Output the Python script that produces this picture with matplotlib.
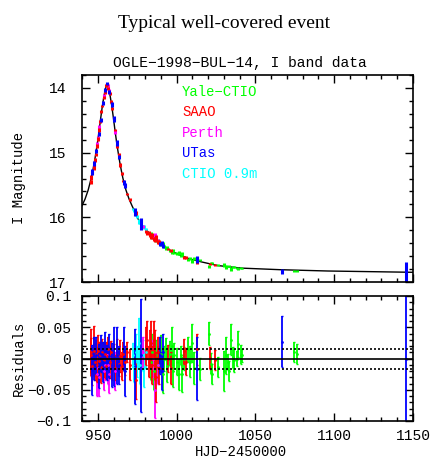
import matplotlib
matplotlib.use("Agg")
import matplotlib.pyplot as plt
from matplotlib.ticker import MultipleLocator, FuncFormatter

# ---------------- data ----------------
# model light curve (HJD-2450000, I mag)
model_t = [940, 941.9, 943.9, 945.9, 946.9, 947.9, 948.9, 949.9, 950.9, 951.9,
           952.9, 953.9, 954.9, 955.4, 955.9, 956.4, 956.9, 957.9, 958.9, 959.9,
           960.9, 961.9, 962.9, 963.9, 964.9, 965.9, 966.9, 967.9, 969.9, 971.9,
           975.9, 977.9, 980.9, 982.9, 985.9, 989.9, 995.9, 1000.9, 1007.9, 1015.9,
           1025.9, 1040.9, 1065.9, 1095.9, 1150]
model_m = [15.82, 15.72, 15.58, 15.39, 15.27, 15.14, 14.99, 14.83, 14.65, 14.46,
           14.28, 14.13, 14.01, 13.96, 13.94, 13.96, 14.01, 14.13, 14.28, 14.46,
           14.65, 14.83, 14.99, 15.14, 15.27, 15.39, 15.49, 15.58, 15.72, 15.83,
           16.04, 16.11, 16.20, 16.25, 16.32, 16.41, 16.51, 16.57, 16.64, 16.69,
           16.745, 16.785, 16.81, 16.83, 16.85]

# Yale-CTIO
yale_t = [983.5, 984.5, 985.5, 986.8, 988.5, 990.0, 991.2, 992.0, 993.0, 994.0,
          996.0, 997.0, 997.5, 998.5, 1000.0, 1001.5, 1003.0, 1003.5, 1005.0, 1007.0,
          1008.5, 1009.5, 1011.0, 1014.9, 1020.4, 1021.9, 1022.7, 1026.5, 1030.3, 1031.4,
          1032.4, 1033.3, 1034.5, 1036.0, 1036.7, 1038.1, 1039.2, 1040.9, 1041.3, 1074.5,
          1076.4]
yale_m = [16.26, 16.30, 16.29, 16.35, 16.37, 16.42, 16.41, 16.45, 16.48, 16.47,
          16.52, 16.54, 16.51, 16.55, 16.56, 16.55, 16.60, 16.57, 16.61, 16.65,
          16.64, 16.68, 16.64, 16.66, 16.76, 16.71, 16.71, 16.74, 16.74, 16.77,
          16.76, 16.75, 16.80, 16.77, 16.77, 16.78, 16.80, 16.79, 16.79, 16.83,
          16.83]
yale_r = [-0.005, 0.010, -0.020, 0.005, -0.010, 0.008, -0.025, 0.000, 0.015, -0.012,
          0.008, 0.020, -0.020, 0.005, -0.005, -0.025, 0.005, -0.025, 0.000, 0.015,
          -0.005, 0.025, -0.015, -0.017, 0.040, -0.008, -0.025, -0.014, -0.020, 0.005,
          -0.006, -0.020, 0.030, 0.002, -0.003, 0.000, 0.023, 0.006, 0.005, 0.010,
          0.008]
yale_e = [0.030, 0.030, 0.030, 0.025, 0.028, 0.030, 0.030, 0.020, 0.018, 0.025,
          0.020, 0.030, 0.025, 0.020, 0.022, 0.025, 0.015, 0.028, 0.018, 0.020,
          0.025, 0.030, 0.025, 0.018, 0.018, 0.017, 0.016, 0.016, 0.032, 0.030,
          0.013, 0.016, 0.025, 0.017, 0.018, 0.012, 0.021, 0.015, 0.010, 0.016,
          0.016]

# SAAO
saao_t = [945.4, 946.0, 946.6, 947.3, 948.0, 948.7, 949.4, 950.2, 950.9, 951.6,
          952.3, 953.0, 953.8, 954.5, 955.3, 956.1, 956.8, 957.6, 958.4, 959.2,
          960.0, 961.0, 962.3, 963.2, 964.3, 965.4, 966.3, 967.2, 968.6, 970.3,
          974.5, 980.8, 981.5, 982.3, 983.0, 983.8, 984.6, 985.4, 986.3, 987.1,
          988.0, 989.0, 994.8, 996.5, 1004.5, 1006.0, 1013.0, 1021.2, 1024.4]
saao_m = [15.45, 15.39, 15.30, 15.23, 15.12, 15.03, 14.90, 14.79, 14.65, 14.52,
          14.37, 14.28, 14.15, 14.07, 13.96, 13.95, 14.01, 14.09, 14.21, 14.32,
          14.48, 14.65, 14.90, 15.03, 15.19, 15.32, 15.44, 15.51, 15.64, 15.73,
          15.94, 16.22, 16.25, 16.23, 16.27, 16.30, 16.28, 16.34, 16.34, 16.32,
          16.38, 16.38, 16.49, 16.51, 16.62, 16.62, 16.69, 16.72, 16.74]
saao_r = [0.005, 0.010, -0.012, 0.012, -0.005, 0.008, -0.010, 0.012, -0.004, 0.006,
          -0.014, 0.010, -0.002, 0.008, -0.012, 0.004, 0.015, -0.006, 0.010, -0.010,
          0.002, -0.015, 0.006, -0.008, 0.004, -0.012, 0.008, -0.006, 0.010, -0.010,
          -0.035, 0.020, 0.030, -0.005, 0.015, 0.025, -0.010, 0.030, 0.005, -0.030,
          0.010, -0.015, 0.000, -0.015, 0.012, -0.005, 0.015, 0.001, -0.003]
saao_e = [0.028, 0.038, 0.030, 0.040, 0.030, 0.022, 0.028, 0.025, 0.030, 0.020,
          0.025, 0.022, 0.028, 0.018, 0.020, 0.022, 0.020, 0.025, 0.018, 0.024,
          0.022, 0.020, 0.026, 0.020, 0.025, 0.022, 0.018, 0.020, 0.016, 0.025,
          0.030, 0.030, 0.030, 0.025, 0.030, 0.035, 0.030, 0.030, 0.040, 0.040,
          0.025, 0.025, 0.022, 0.025, 0.020, 0.022, 0.025, 0.018, 0.016]

# Perth
perth_t = [949.5, 950.2, 951.0, 953.8, 954.5, 955.9, 956.6, 957.4, 961.2, 978.5,
           985.0, 986.5, 988.0]
perth_m = [14.87, 14.77, 14.60, 14.13, 14.05, 13.95, 13.97, 14.05, 14.68, 16.14,
           16.30, 16.28, 16.36]
perth_r = [-0.025, -0.015, -0.030, -0.020, -0.010, 0.005, -0.010, -0.025, -0.020, 0.010,
           0.000, -0.050, -0.010]
perth_e = [0.035, 0.030, 0.030, 0.030, 0.025, 0.020, 0.030, 0.030, 0.030, 0.025,
           0.030, 0.045, 0.030]

# UTas
utas_t = [946.5, 947.7, 949.0, 950.5, 951.8, 953.2, 954.8, 956.0, 957.3, 958.8,
          960.0, 962.0, 963.5, 966.4, 967.3, 973.8, 977.6, 989.6, 990.6, 991.6,
          1013.0, 1067.0, 1145.3]
utas_m = [15.30, 15.17, 14.98, 14.71, 14.49, 14.23, 14.03, 13.93, 14.06, 14.26,
          14.48, 14.85, 15.07, 15.46, 15.51, 15.92, 16.10, 16.41, 16.40, 16.45,
          16.65, 16.84, 16.85]
utas_r = [-0.018, 0.000, 0.005, -0.012, 0.008, -0.005, 0.012, -0.006, 0.004, -0.010,
          0.003, 0.005, -0.010, 0.015, -0.020, -0.012, 0.005, 0.005, -0.020, 0.010,
          -0.016, 0.027, 0.000]
utas_e = [0.040, 0.035, 0.030, 0.035, 0.030, 0.032, 0.030, 0.028, 0.035, 0.035,
          0.047, 0.045, 0.030, 0.035, 0.040, 0.060, 0.090, 0.030, 0.030, 0.030,
          0.050, 0.041, 0.160]

# CTIO 0.9m
ctio_t = [972.5, 973.2, 974.0, 975.0, 976.0, 977.0, 978.5, 979.5, 980.3]
ctio_m = [15.87, 15.89, 15.95, 15.99, 16.07, 16.07, 16.14, 16.15, 16.19]
ctio_r = [0.005, -0.012, 0.010, -0.005, 0.025, -0.010, 0.005, -0.015, 0.010]
ctio_e = [0.020, 0.025, 0.030, 0.025, 0.040, 0.030, 0.025, 0.030, 0.025]

site_names = ["Yale\u2212CTIO", "SAAO", "Perth", "UTas", "CTIO 0.9m"]
site_colors = ["#00ff00", "#ff0000", "#ff00ff", "#0000ff", "#00ffff"]

res_band = 0.016
xticks_major = [950, 1000, 1050, 1100, 1150]
mag_ticks = [14, 15, 16, 17]
res_ticks = [-0.1, -0.05, 0, 0.05, 0.1]

# ---------------- plot ----------------
MONO = "Liberation Mono"
WT = "normal"
fig = plt.figure(figsize=(4.33, 4.58), dpi=100)
ax1 = fig.add_axes([82/433, 1-282/458, 331/433, 207/458])
ax2 = fig.add_axes([82/433, 1-421/458, 331/433, 125/458])

ax1.plot(model_t, model_m, color="black", lw=1.0, zorder=1)

series = [
    (yale_t, yale_m, yale_r, yale_e),
    (saao_t, saao_m, saao_r, saao_e),
    (perth_t, perth_m, perth_r, perth_e),
    (utas_t, utas_m, utas_r, utas_e),
    (ctio_t, ctio_m, ctio_r, ctio_e),
]
order = [0, 4, 2, 1, 3]
for i in order:
    t, m, r, e = series[i]
    c = site_colors[i]
    ax1.errorbar(t, m, yerr=e, fmt="none", ecolor=c, elinewidth=2.2, capsize=0, zorder=2)
    ax2.errorbar(t, r, yerr=e, fmt=".", color=c, ms=2, ecolor=c, elinewidth=1.3,
                 capsize=1, capthick=1, zorder=2)

ax2.axhline(0, color="black", lw=1.2, zorder=3)
ax2.axhline(res_band, color="black", lw=1.2, ls=(0, (1.2, 1.2)), zorder=3)
ax2.axhline(-res_band, color="black", lw=1.2, ls=(0, (1.2, 1.2)), zorder=3)

for ax in (ax1, ax2):
    ax.set_xlim(940, 1150)
    ax.xaxis.set_major_locator(MultipleLocator(50))
    ax.xaxis.set_minor_locator(MultipleLocator(10))
    ax.tick_params(which="both", direction="in", top=True, right=True, width=1.0)
    ax.tick_params(which="major", length=5.5)
    ax.tick_params(which="minor", length=3)
    for s in ax.spines.values():
        s.set_linewidth(1.2)

ax1.set_ylim(17, 13.8)
ax1.set_yticks(mag_ticks)
ax1.yaxis.set_minor_locator(MultipleLocator(0.2))
ax1.tick_params(axis="x", labelbottom=False)
ax1.tick_params(axis="y", pad=11)

ax2.set_ylim(-0.1, 0.1)
ax2.set_yticks(res_ticks)
ax2.yaxis.set_minor_locator(MultipleLocator(0.01))
ax2.set_xticks(xticks_major)
ax2.yaxis.set_major_formatter(FuncFormatter(lambda v, p: ("%g" % round(v, 4)).replace("-", "\u2212")))
ax2.tick_params(axis="y", pad=8)
ax2.tick_params(axis="x", pad=6)

for ax in (ax1, ax2):
    for lab in ax.get_xticklabels() + ax.get_yticklabels():
        lab.set_family(MONO)
        lab.set_fontsize(10.5)
        lab.set_fontweight(WT)

# legend as coloured text
leg_y = [0.918, 0.821, 0.720, 0.623, 0.522]
for name, c, y in zip(site_names, site_colors, leg_y):
    ax1.text(0.302, y, name, color=c, family=MONO, fontsize=10, fontweight=WT,
             transform=ax1.transAxes, ha="left", va="center")

fig.text(19/433, 1-178/458, "I Magnitude", rotation=90, family=MONO, fontsize=10,
         fontweight=WT, ha="center", va="center")
fig.text(19/433, 1-358.5/458, "Residuals", rotation=90, family=MONO, fontsize=10,
         fontweight=WT, ha="center", va="center")
fig.text(241/433, 1-445/458, "HJD\u22122450000", family=MONO, fontsize=10,
         fontweight=WT, ha="center", va="top")

fig.text(224/433, 1-23/458, "Typical well-covered event", family="Liberation Serif",
         fontsize=14, ha="center", va="center")
fig.text(240/433, 1-63/458, "OGLE\u22121998\u2212BUL\u221214, I band data", family=MONO,
         fontsize=10.5, fontweight=WT, ha="center", va="center")

fig.savefig("out.png", dpi=100)
